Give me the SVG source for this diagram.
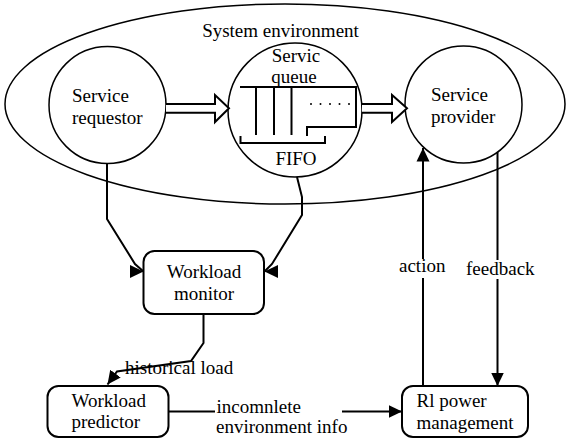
<svg xmlns="http://www.w3.org/2000/svg" width="566" height="444" viewBox="0 0 566 444">
<style>
.t{font-family:"Liberation Serif","Times New Roman",serif;font-size:19px;fill:#000}
.c{text-anchor:middle}
.sh{fill:none;stroke:#000;stroke-width:1.5}
.bx{fill:#fff;stroke:#000;stroke-width:2}
.ln{fill:none;stroke:#000;stroke-width:2}
.ha{fill:#fff;stroke:#000;stroke-width:2}
</style>
<defs>
<marker id="a" markerUnits="userSpaceOnUse" viewBox="0 0 14 14" markerWidth="14" markerHeight="14" refX="13.5" refY="7" orient="auto"><path d="M0,0.5 L13.5,7 L0,13.5 Z" fill="#000"/></marker>
<marker id="aR" markerUnits="userSpaceOnUse" viewBox="0 0 14 14" markerWidth="14" markerHeight="14" refX="13.5" refY="7" orient="0"><path d="M0,0.5 L13.5,7 L0,13.5 Z" fill="#000"/></marker>
<marker id="aL" markerUnits="userSpaceOnUse" viewBox="0 0 14 14" markerWidth="14" markerHeight="14" refX="13.5" refY="7" orient="180"><path d="M0,0.5 L13.5,7 L0,13.5 Z" fill="#000"/></marker>
</defs>

<g id="system-environment">
<ellipse class="sh" cx="285" cy="104" rx="280" ry="100"/>
<text class="t c" x="280.5" y="37">System environment</text>
</g>

<g id="service-requestor">
<circle class="sh" cx="107.5" cy="105" r="58.5"/>
<text class="t" x="72" y="102">Service</text>
<text class="t" x="72" y="123.5">requestor</text>
</g>

<g id="service-queue">
<circle class="sh" cx="295" cy="110" r="67"/>
<text class="t c" x="296" y="62">Servic</text>
<text class="t c" x="294" y="83">queue</text>
<path class="ln" d="M240,87 H356 V127 H307 V136 M256,87 V135 M274,87 V135 M291.5,87 V135 M240.5,136 V143 H325 V136"/>
<g fill="#000"><circle cx="311" cy="104" r="1"/><circle cx="320.5" cy="104" r="1"/><circle cx="330" cy="104" r="1"/><circle cx="339.5" cy="104" r="1"/><circle cx="349" cy="104" r="1"/></g>
<text class="t c" x="296" y="165">FIFO</text>
</g>

<g id="service-provider">
<circle class="sh" cx="463.5" cy="104.5" r="58.5"/>
<text class="t" x="431" y="101">Service</text>
<text class="t" x="431" y="123">provider</text>
</g>

<g id="workload-monitor">
<rect class="bx" x="143.5" y="251" width="120.5" height="63" rx="11"/>
<text class="t c" x="204" y="278">Workload</text>
<text class="t c" x="204" y="299.5">monitor</text>
</g>

<g id="workload-predictor">
<rect class="bx" x="47.5" y="386" width="121" height="51" rx="11"/>
<text class="t" x="71.5" y="406.5">Workload</text>
<text class="t" x="71.5" y="428">predictor</text>
</g>

<g id="rl-power-management">
<rect class="bx" x="402" y="386" width="126" height="51" rx="11"/>
<text class="t" x="416.5" y="407">Rl power</text>
<text class="t" x="416.5" y="429">management</text>
</g>

<g id="connectors">
<path class="ha" d="M166,104 H215 V95 L229,108.3 L215,122 V112.7 H166"/>
<path class="ha" d="M362,104 H392 V95 L407,108.3 L392,122 V112.7 H362"/>
<path class="ln" d="M107,163.5 V219 L135,264 L143.5,271.5" marker-end="url(#aR)"/>
<path class="ln" d="M297,177 L302,197 V215 L272,264 L264.5,271.5" marker-end="url(#aL)"/>
<path class="ln" d="M203.5,314 V343 L191,361 L117,371.5 L107.5,384.5" marker-end="url(#a)"/>
<path class="ln" d="M168.5,411.5 H215 M342,411.5 H402" marker-end="url(#a)"/>
<path class="ln" d="M423,386 V278 M423,259 V148" marker-end="url(#a)"/>
<path class="ln" d="M497.5,152 V260 M497.5,279 V386" marker-end="url(#a)"/>
<text class="t" x="125" y="374">historical load</text>
<text class="t" x="216.5" y="413">incomnlete</text>
<text class="t" x="216" y="433">environment info</text>
<text class="t" x="399" y="272">action</text>
<text class="t" x="466" y="275">feedback</text>
</g>
</svg>
